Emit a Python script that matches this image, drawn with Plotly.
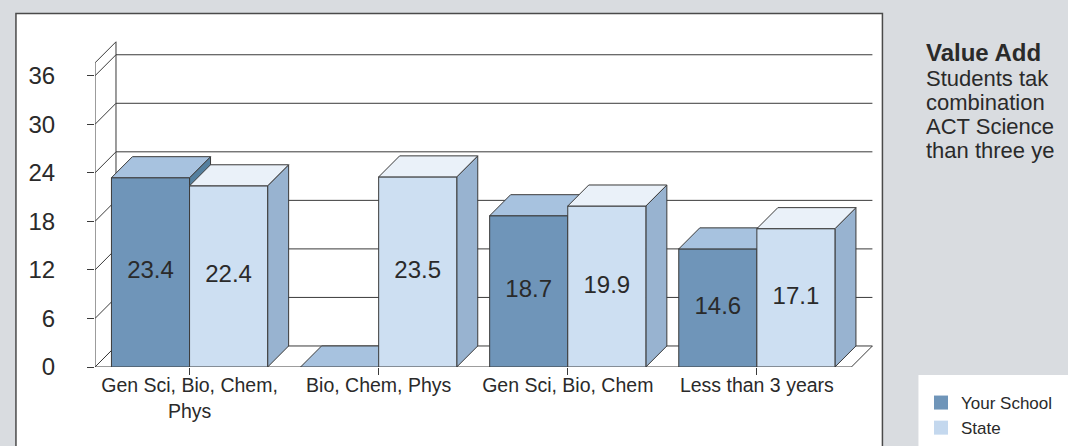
import plotly.graph_objects as go

# ---------------- data ----------------
categories = ["Gen Sci, Bio, Chem,<br>Phys", "Bio, Chem, Phys", "Gen Sci, Bio, Chem", "Less than 3 years"]
your_school = [23.4, None, 18.7, 14.6]
state = [22.4, 23.5, 19.9, 17.1]
y_ticks = [0, 6, 12, 18, 24, 30, 36]
series_names = ["Your School", "State"]

# side note (only the part visible in the reference, which is cut at the right edge)
side_text_title = "Value Add"
side_text_lines = ["Students tak", "combination", "ACT Science", "than three ye"]

# ---------------- styling ----------------
W, H = 1068, 446
FONT = "Liberation Sans, Arial, sans-serif"
TXT = "#2a2a2a"
EDGE = "#3a3a3a"
COL_FRONT = ["#6f95b9", "#cddff2"]
COL_TOP = ["#a7c2df", "#eaf1f9"]
COL_SIDE = ["#55809f", "#98b3d0"]
LEG_COL = ["#6f95b9", "#c4d8ee"]

BW = 0.413          # bar width in category units
DX = 0.111          # depth offset (x, category units)
DY = 2.6            # depth offset (y, value units)
WALL_TOP = 37.6     # height of the walls at the front plane

X_RANGE = [-0.5, 3.63]
Y_RANGE = [0, 40.3]
L, T = 95, 40.6
PX_PER_CAT, PX_PER_UNIT = 189.0, 8.1
PW = (X_RANGE[1] - X_RANGE[0]) * PX_PER_CAT
PH = (Y_RANGE[1] - Y_RANGE[0]) * PX_PER_UNIT
R = W - L - PW
B = H - T - PH
Y0 = T + PH


def px_x(p):
    return (p - L) / PW


def px_y(p):
    return (Y0 - p) / PH


fig = go.Figure()


def poly(xs, ys, fill, line=EDGE, width=1):
    fig.add_trace(go.Scatter(x=xs + [xs[0]], y=ys + [ys[0]], mode="lines", fill="toself",
                             fillcolor=fill, line=dict(color=line, width=width),
                             hoverinfo="skip", showlegend=False))


def seg(xs, ys, color=EDGE, width=1):
    fig.add_trace(go.Scatter(x=xs, y=ys, mode="lines", line=dict(color=color, width=width),
                             hoverinfo="skip", showlegend=False))


n = len(categories)
xl, xr = -0.5, n - 0.5

# floor
poly([xl, xr, xr + DX, xl + DX], [0, 0, DY, DY], "white")
# back wall grid lines
for k in y_ticks[1:]:
    seg([xl + DX, xr + DX], [k + DY, k + DY])
# left wall
seg([xl, xl], [0, WALL_TOP])
seg([xl + DX, xl + DX], [DY, WALL_TOP + DY])
seg([xl, xl + DX], [WALL_TOP, WALL_TOP + DY])
for k in y_ticks:
    seg([xl, xl + DX], [k, k + DY])

# 3D bars
for i in range(n):
    for s, vals in enumerate([your_school, state]):
        v = vals[i] if vals[i] is not None else 0.0
        x0 = i - BW if s == 0 else i
        x1 = x0 + BW
        if v > 0:
            poly([x1, x1 + DX, x1 + DX, x1], [0, DY, v + DY, v], COL_SIDE[s])
            poly([x0, x1, x1, x0], [0, 0, v, v], COL_FRONT[s])
        poly([x0, x1, x1 + DX, x0 + DX], [v, v, v + DY, v + DY], COL_TOP[s])

# data labels
for s, vals in enumerate([your_school, state]):
    xs, ys, tx = [], [], []
    for i, v in enumerate(vals):
        if v is None:
            continue
        xs.append(i - BW / 2 if s == 0 else i + BW / 2)
        ys.append(v / 2)
        tx.append(f"{v:.1f}")
    fig.add_trace(go.Scatter(x=xs, y=ys, text=tx, mode="text",
                             textfont=dict(family=FONT, size=24, color=TXT),
                             hoverinfo="skip", showlegend=False))

# legend entries
for s, name in enumerate(series_names):
    fig.add_trace(go.Scatter(x=[None], y=[None], mode="markers", name=name,
                             marker=dict(symbol="square", size=14, color=LEG_COL[s])))

shapes = [
    # white chart panel
    dict(type="rect", xref="paper", yref="paper", layer="below",
         x0=px_x(16), x1=px_x(882), y0=px_y(470), y1=px_y(13),
         fillcolor="white", line=dict(color="#4a4a4a", width=1.5)),
    # legend panel
    dict(type="rect", xref="paper", yref="paper", layer="below",
         x0=px_x(918), x1=px_x(1090), y0=px_y(470), y1=px_y(375),
         fillcolor="white", line=dict(width=0)),
]

annotations = [
    dict(xref="paper", yref="paper", x=px_x(924), y=px_y(52), xanchor="left", yanchor="middle",
         text=f"<b>{side_text_title}</b>", showarrow=False,
         font=dict(family=FONT, size=24, color=TXT)),
]
for j, line in enumerate(side_text_lines):
    annotations.append(dict(xref="paper", yref="paper", x=px_x(924), y=px_y(78 + 24 * j),
                            xanchor="left", yanchor="middle", text=line, showarrow=False,
                            font=dict(family=FONT, size=22, color=TXT)))

fig.update_layout(
    width=W, height=H,
    margin=dict(l=L, r=R, t=T, b=B, pad=0, autoexpand=False),
    paper_bgcolor="#d9dce0",
    plot_bgcolor="rgba(0,0,0,0)",
    shapes=shapes,
    annotations=annotations,
    showlegend=True,
    legend=dict(xref="container", yref="container", x=921 / W, y=1 - 385 / H,
                xanchor="left", yanchor="top",
                bgcolor="rgba(0,0,0,0)", font=dict(family=FONT, size=17, color=TXT),
                itemclick=False, itemdoubleclick=False, tracegroupgap=0),
    xaxis=dict(range=X_RANGE, tickmode="array", tickvals=list(range(n)), ticktext=categories,
               ticks="outside", ticklen=7, tickcolor=EDGE, showgrid=False, zeroline=False,
               showline=False, ticklabelstandoff=-6,
               tickfont=dict(family=FONT, size=19.5, color=TXT), fixedrange=True),
    yaxis=dict(range=Y_RANGE, tickmode="array", tickvals=y_ticks,
               ticks="outside", ticklen=7, tickcolor=EDGE, showgrid=False, zeroline=False,
               showline=False, ticklabelstandoff=27,
               tickfont=dict(family=FONT, size=24, color=TXT), fixedrange=True),
)

fig.write_html("out.html", config={"displayModeBar": False},
               post_script="document.body.style.margin='0';document.body.style.overflow='hidden';")
